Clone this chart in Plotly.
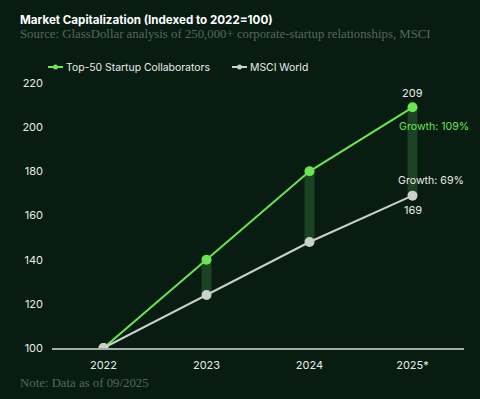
import plotly.graph_objects as go

years = ["2022", "2023", "2024", "2025*"]
top50 = [100, 140, 180, 209]
msci = [100, 124, 148, 169]
y_ticks = [100, 120, 140, 160, 180, 200, 220]

BG = "#081c12"
GREEN = "#6be552"
GRAY = "#c9d1c9"
BAR = "rgba(60,130,60,0.38)"
SANS = "Inter, 'DejaVu Sans', sans-serif"
SERIF = "'Liberation Serif', 'DejaVu Serif', serif"

L, R, T, B = 52, 16, 83, 51
W, H = 480, 399
PW, PH = W - L - R, H - T - B

def px(x):
    return (x - L) / PW

def py(y):
    return (H - B - y) / PH

fig = go.Figure()

# connecting bars between the two series
for i in range(1, len(years)):
    fig.add_trace(go.Scatter(
        x=[years[i], years[i]], y=[msci[i], top50[i]], mode="lines",
        line=dict(color=BAR, width=10), hoverinfo="skip", showlegend=False))

fig.add_trace(go.Scatter(
    x=years, y=top50, mode="lines+markers", name="Top-50 Startup Collaborators",
    line=dict(color=GREEN, width=2), marker=dict(color=GREEN, size=10),
    showlegend=False))
fig.add_trace(go.Scatter(
    x=years, y=msci, mode="lines+markers", name="MSCI World",
    line=dict(color=GRAY, width=2), marker=dict(color=GRAY, size=10),
    showlegend=False))

ann = []
for i in range(1, len(years)):
    ann.append(dict(x=years[i], y=top50[i], text=str(top50[i]), showarrow=False,
                    yshift=14, font=dict(color="#e8ece8", size=11, family=SANS)))
    ann.append(dict(x=years[i], y=msci[i], text=str(msci[i]), showarrow=False,
                    yshift=-14, font=dict(color="#e8ece8", size=11, family=SANS)))

g_top = top50[-1] - top50[0]
g_msci = msci[-1] - msci[0]
ann.append(dict(x=years[-1], y=top50[-1], text=f"Growth: {g_top}%", showarrow=False,
                xshift=21, yshift=-19, font=dict(color=GREEN, size=10.6, family=SANS)))
ann.append(dict(x=years[-1], y=msci[-1], text=f"Growth: {g_msci}%", showarrow=False,
                xshift=18, yshift=15, font=dict(color="#e8ece8", size=10.6, family=SANS)))

# titles
ann.append(dict(xref="paper", yref="paper", x=px(18), y=py(20), xanchor="left", yanchor="middle",
                text="<b>Market Capitalization (Indexed to 2022=100)</b>", showarrow=False,
                font=dict(color="#ffffff", size=11.6, family=SANS)))
ann.append(dict(xref="paper", yref="paper", x=px(18), y=py(34), xanchor="left", yanchor="middle",
                text="Source: GlassDollar analysis of 250,000+ corporate-startup relationships, MSCI",
                showarrow=False, font=dict(color="#56685c", size=12.8, family=SERIF)))
ann.append(dict(xref="paper", yref="paper", x=px(18), y=py(383), xanchor="left", yanchor="middle",
                text="Note: Data as of 09/2025", showarrow=False,
                font=dict(color="#56685c", size=12.8, family=SERIF)))

# manual legend
shapes = []
for (x0, name, col) in [(48, "Top-50 Startup Collaborators", GREEN), (232, "MSCI World", GRAY)]:
    shapes.append(dict(type="line", xref="paper", yref="paper", x0=px(x0), x1=px(x0 + 15),
                       y0=py(67), y1=py(67), line=dict(color=col, width=2)))
    shapes.append(dict(type="circle", xref="paper", yref="paper", x0=px(x0 + 5), x1=px(x0 + 10),
                       y0=py(69.5), y1=py(64.5), fillcolor=col, line=dict(width=0)))
    ann.append(dict(xref="paper", yref="paper", x=px(x0 + 16), y=py(67), xanchor="left",
                    yanchor="middle", text=name, showarrow=False,
                    font=dict(color="#e8ece8", size=10.4, family=SANS)))

fig.update_layout(
    width=W, height=H, paper_bgcolor=BG, plot_bgcolor=BG,
    margin=dict(l=L, r=R, t=T, b=B),
    annotations=ann, shapes=shapes, showlegend=False,
    xaxis=dict(type="category", categoryorder="array", categoryarray=years,
               range=[-0.5, 3.5], showgrid=False, zeroline=False,
               showline=True, linecolor="#a3aea3", linewidth=1.5,
               ticks="", tickfont=dict(color="#e8ece8", size=11, family=SANS), ticklabelstandoff=6),
    yaxis=dict(range=[100, 220], tickvals=y_ticks, showgrid=False, zeroline=False,
               showline=False, ticks="", tickfont=dict(color="#e8ece8", size=11, family=SANS),
               ticklabelstandoff=8),
)

fig.write_html("out.html", config={"displayModeBar": False},
               post_script="document.body.style.margin='0';")
